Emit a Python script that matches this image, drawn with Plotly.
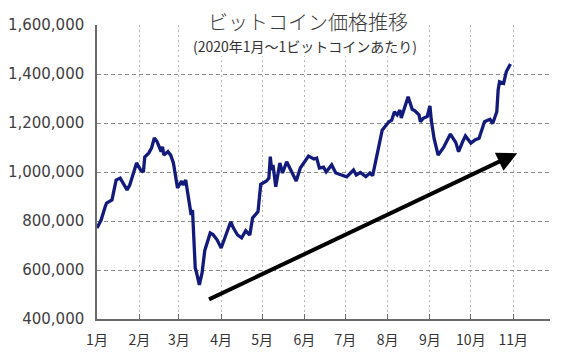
import plotly.graph_objects as go

dates = [
    "2020-01-01", "2020-01-04", "2020-01-07", "2020-01-08", "2020-01-12", "2020-01-13", "2020-01-15",
    "2020-01-18", "2020-01-20", "2020-01-23", "2020-01-25", "2020-01-28", "2020-01-30",
    "2020-02-02", "2020-02-04", "2020-02-05", "2020-02-08", "2020-02-10", "2020-02-12", "2020-02-14",
    "2020-02-17", "2020-02-18", "2020-02-19", "2020-02-22", "2020-02-24", "2020-02-26", "2020-02-28",
    "2020-02-29",
    "2020-03-03", "2020-03-04", "2020-03-06", "2020-03-08", "2020-03-10", "2020-03-11", "2020-03-12",
    "2020-03-13", "2020-03-14", "2020-03-16", "2020-03-18", "2020-03-20", "2020-03-24", "2020-03-26",
    "2020-03-29",
    "2020-04-01", "2020-04-08", "2020-04-10", "2020-04-13", "2020-04-16", "2020-04-19", "2020-04-22",
    "2020-04-24", "2020-04-28", "2020-04-30",
    "2020-05-04", "2020-05-06", "2020-05-07", "2020-05-08", "2020-05-09", "2020-05-11", "2020-05-14",
    "2020-05-16", "2020-05-19", "2020-05-22", "2020-05-26", "2020-05-29",
    "2020-06-01", "2020-06-03", "2020-06-04", "2020-06-08", "2020-06-10", "2020-06-12", "2020-06-15",
    "2020-06-17", "2020-06-21", "2020-06-24", "2020-06-28",
    "2020-07-02", "2020-07-07", "2020-07-09", "2020-07-12", "2020-07-16", "2020-07-19", "2020-07-21",
    "2020-07-23", "2020-07-26", "2020-07-28", "2020-07-31",
    "2020-08-02", "2020-08-04", "2020-08-06", "2020-08-08", "2020-08-10", "2020-08-11", "2020-08-14",
    "2020-08-16", "2020-08-19", "2020-08-21", "2020-08-24", "2020-08-25", "2020-08-27", "2020-08-30",
    "2020-09-01", "2020-09-02", "2020-09-04", "2020-09-07", "2020-09-11", "2020-09-16", "2020-09-20",
    "2020-09-22", "2020-09-25", "2020-09-27",
    "2020-10-01", "2020-10-04", "2020-10-07", "2020-10-11", "2020-10-15", "2020-10-17", "2020-10-20",
    "2020-10-21", "2020-10-22", "2020-10-25", "2020-10-27", "2020-10-30",
]
prices = [
    771000, 804000, 858000, 873000, 886000, 914000, 967000,
    975000, 955000, 927000, 947000, 996000, 1037000,
    1008000, 1000000, 1061000, 1078000, 1098000, 1139000, 1124000,
    1083000, 1103000, 1069000, 1083000, 1069000, 1037000, 963000,
    935000,
    963000, 947000, 967000, 900000, 825000, 845000, 736000,
    608000, 588000, 539000, 588000, 680000, 751000, 745000,
    723000,
    690000, 797000, 771000, 743000, 731000, 760000, 743000,
    812000, 838000, 950000,
    962000, 975000, 1063000, 1008000, 1029000, 940000, 1037000,
    996000, 1042000, 1008000, 963000, 1016000,
    1042000, 1057000, 1065000, 1053000, 1057000, 1016000, 1020000,
    1001000, 1029000, 996000, 988000,
    980000, 1008000, 988000, 998000, 981000, 996000, 985000,
    1037000, 1118000, 1171000, 1192000,
    1205000, 1212000, 1246000, 1233000, 1253000, 1220000, 1273000,
    1307000, 1256000, 1250000, 1233000, 1205000, 1219000, 1226000,
    1270000, 1212000, 1138000, 1069000, 1100000, 1155000, 1120000,
    1083000, 1124000, 1147000,
    1118000, 1131000, 1138000, 1205000, 1215000, 1198000, 1246000,
    1335000, 1368000, 1362000, 1410000, 1441000,
]

month_ticks = ["2020-01-01", "2020-02-01", "2020-03-01", "2020-04-01", "2020-05-01", "2020-06-01",
               "2020-07-01", "2020-08-01", "2020-09-01", "2020-10-01", "2020-11-01"]
month_labels = ["1月", "2月", "3月", "4月", "5月", "6月", "7月", "8月", "9月", "10月", "11月"]

title_text = "ビットコイン価格推移"
subtitle_text = "(2020年1月～1ビットコインあたり)"

# trend arrow (start and tip, in data units)
arrow_start = ("2020-03-22", 477000)
arrow_tip = ("2020-11-04", 1077000)

fig = go.Figure()
fig.add_trace(go.Scatter(
    x=dates, y=prices, mode="lines",
    line=dict(color="#121a7c", width=3.3),
    hoverinfo="skip", showlegend=False,
))

fig.update_layout(
    width=567, height=354,
    margin=dict(l=97, r=17, t=25, b=35),
    paper_bgcolor="white", plot_bgcolor="white",
    showlegend=False,
    xaxis=dict(
        range=["2020-01-01", "2020-11-28"],
        tickvals=month_ticks, ticktext=month_labels,
        showgrid=True, gridcolor="#b8b8b8", gridwidth=1, griddash="2px,3px",
        showline=True, linecolor="#6a6a6a", linewidth=1.5,
        ticks="inside", ticklen=5, tickcolor="#6a6a6a", tickwidth=1,
        ticklabelstandoff=7, automargin=False,
        tickfont=dict(family="Noto Sans CJK JP", size=14, color="#333333"),
        zeroline=False, fixedrange=True,
    ),
    yaxis=dict(
        range=[400000, 1600000], dtick=200000, tick0=400000,
        tickformat=",d",
        showgrid=True, gridcolor="#8a8a8a", gridwidth=1.3, griddash="4px,3px",
        showline=True, linecolor="#6a6a6a", linewidth=1.5,
        ticks="", ticklabelstandoff=8, automargin=False,
        tickfont=dict(family="DejaVu Sans", size=15, color="#404040"),
        zeroline=False, fixedrange=True,
    ),
)

fig.add_shape(type="rect", xref="paper", yref="paper",
              x0=0.2075, x1=0.7307, y0=0.8946, y1=1.07,
              fillcolor="white", line=dict(width=0), layer="above")

fig.add_annotation(text=title_text, xref="paper", yref="paper", x=0.466, y=1.0136,
                   xanchor="center", yanchor="middle", showarrow=False,
                   font=dict(family="Noto Sans CJK JP", size=20, color="#3a3a3a", weight=300))
fig.add_annotation(text=subtitle_text, xref="paper", yref="paper", x=0.46, y=0.9286,
                   xanchor="center", yanchor="middle", showarrow=False,
                   font=dict(family="Noto Sans CJK JP", size=14, color="#333333"))

fig.add_annotation(x=arrow_tip[0], y=arrow_tip[1], ax=arrow_start[0], ay=arrow_start[1],
                   xref="x", yref="y", axref="x", ayref="y", text="",
                   showarrow=True, arrowhead=2, arrowsize=1, arrowwidth=4,
                   arrowcolor="black", standoff=0)

fig.write_html("out.html")
